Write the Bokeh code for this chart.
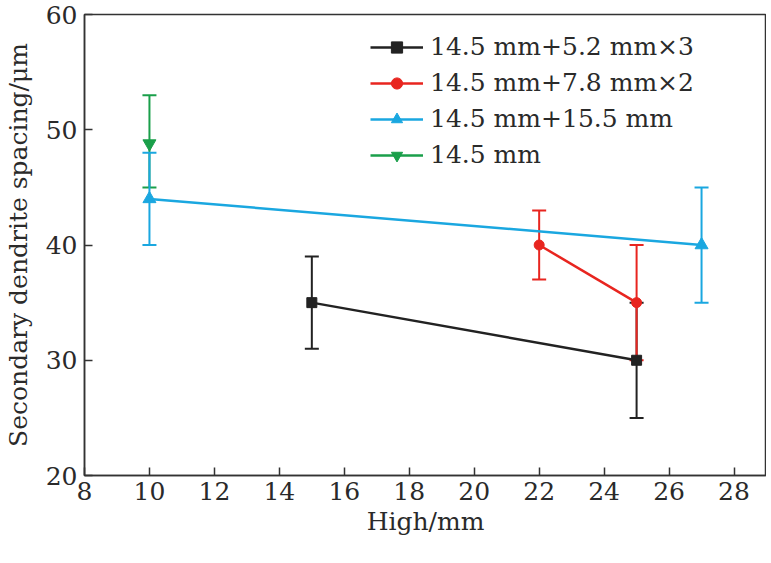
from bokeh.plotting import figure
from bokeh.models import ColumnDataSource, Whisker, TeeHead, Legend, LegendItem, FixedTicker, Range1d
from bokeh.embed import file_html
from bokeh.resources import INLINE

# Data
black_x = [15, 25]
black_y = [35, 30]
black_lo = [31, 25]
black_hi = [39, 35]

red_x = [22, 25]
red_y = [40, 35]
red_lo = [37, 30]
red_hi = [43, 40]

blue_x = [10, 27]
blue_y = [44, 40]
blue_lo = [40, 35]
blue_hi = [48, 45]

green_x = [10]
green_y = [48.8]
green_lo = [45]
green_hi = [53]

labels = ["14.5 mm+5.2 mm\u00d73", "14.5 mm+7.8 mm\u00d72", "14.5 mm+15.5 mm", "14.5 mm"]
x_ticks = [8, 10, 12, 14, 16, 18, 20, 22, 24, 26, 28]
y_ticks = [20, 30, 40, 50, 60]

FONT = "DejaVu Serif"
TXT = "#2a2a2a"
FS = "25px"

p = figure(frame_width=682, frame_height=461, output_backend="svg", toolbar_location=None,
           x_range=Range1d(8, 29), y_range=Range1d(20, 60),
           min_border_left=77, min_border_right=0, min_border_top=14, min_border_bottom=70,
           background_fill_color="white", border_fill_color="white")
p.grid.visible = False
p.outline_line_color = "#333333"
p.outline_line_width = 1.5

for ax in (p.xaxis[0], p.yaxis[0]):
    ax.major_tick_in = 8
    ax.major_tick_out = 0
    ax.minor_tick_line_color = None
    ax.axis_line_color = "#333333"
    ax.axis_line_width = 1.5
    ax.major_tick_line_color = "#333333"
    ax.major_tick_line_width = 1.5
    ax.major_label_text_font = FONT
    ax.major_label_text_font_size = FS
    ax.major_label_text_color = TXT
    ax.axis_label_text_font = FONT
    ax.axis_label_text_font_size = FS
    ax.axis_label_text_font_style = "normal"
    ax.axis_label_text_color = TXT

p.xaxis.ticker = FixedTicker(ticks=x_ticks)
p.yaxis.ticker = FixedTicker(ticks=y_ticks)
p.xaxis.axis_label = "High/mm"
p.yaxis.axis_label = "Secondary dendrite spacing/\u03bcm"
p.xaxis.major_label_standoff = 6
p.yaxis.major_label_standoff = 7
p.xaxis.axis_label_standoff = 4
p.yaxis.axis_label_standoff = 10

series = [
    (black_x, black_y, black_lo, black_hi, "#222222", "square", 10),
    (red_x, red_y, red_lo, red_hi, "#e8251f", "circle", 10),
    (green_x, green_y, green_lo, green_hi, "#1a9f4a", "inverted_triangle", 13),
    (blue_x, blue_y, blue_lo, blue_hi, "#1aa7e0", "triangle", 13),
]

items = {}
for (xs, ys, lo, hi, col, mk, sz), lab in zip(series, [labels[0], labels[1], labels[3], labels[2]]):
    src = ColumnDataSource(dict(x=xs, y=ys, lo=lo, hi=hi))
    w = Whisker(source=src, base="x", lower="lo", upper="hi", dimension="height",
                line_color=col, line_width=2,
                upper_head=TeeHead(size=14, line_color=col, line_width=2),
                lower_head=TeeHead(size=14, line_color=col, line_width=2))
    p.add_layout(w)
    r1 = p.line("x", "y", source=src, line_color=col, line_width=2.5)
    r2 = p.scatter("x", "y", source=src, marker=mk, size=sz, color=col)
    items[lab] = [r1, r2]

legend = Legend(items=[LegendItem(label=l, renderers=items[l]) for l in labels],
                border_line_color=None, background_fill_alpha=0,
                label_text_font=FONT, label_text_font_size=FS, label_text_color=TXT,
                glyph_width=53, glyph_height=28, label_height=28, spacing=7,
                margin=0, padding=6, label_standoff=7)
p.add_layout(legend)
legend.location = (286, 306)

open("out.html", "w").write(file_html(p, INLINE))
